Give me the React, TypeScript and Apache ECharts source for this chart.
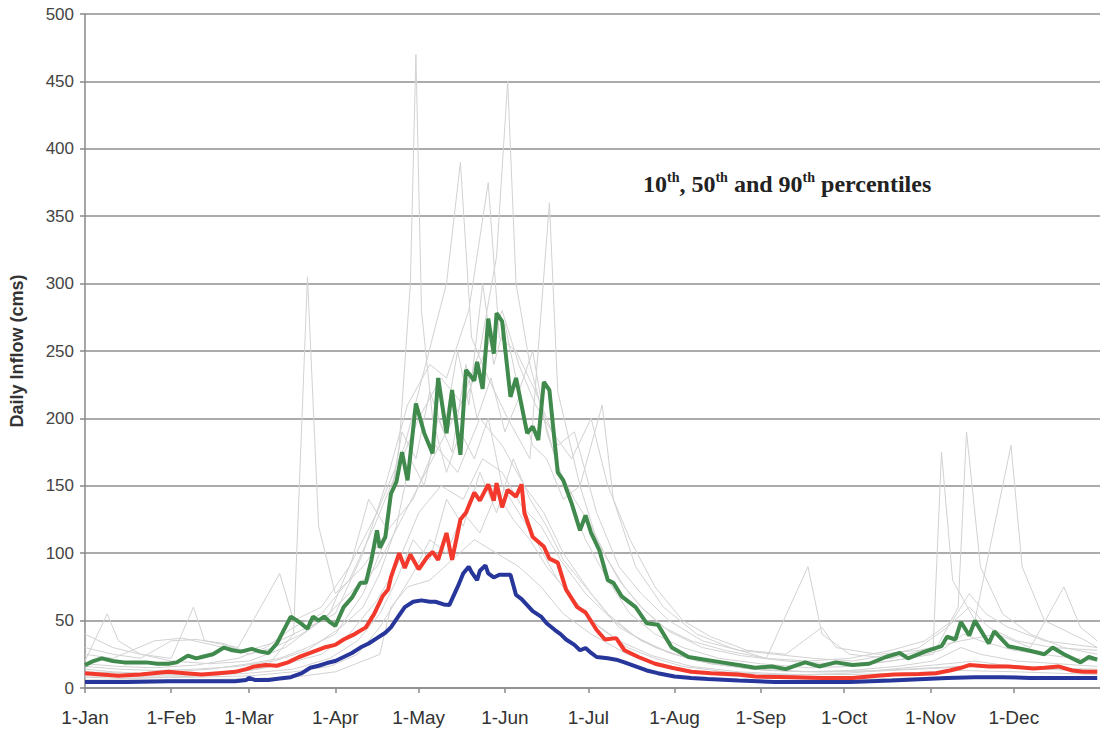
import React, { useEffect, useRef } from "react";
import * as echarts from "echarts";

// day-of-year index (0 = 1-Jan) for month starts
const monthStarts = [0, 31, 59, 90, 120, 151, 181, 212, 243, 273, 304, 334];
const monthLabels = ["1-Jan", "1-Feb", "1-Mar", "1-Apr", "1-May", "1-Jun", "1-Jul", "1-Aug", "1-Sep", "1-Oct", "1-Nov", "1-Dec"];
const yTicks = [0, 50, 100, 150, 200, 250, 300, 350, 400, 450, 500];

// 90th percentile
const p90 = [[0,17],[3,20],[6,22],[10,20],[14,19],[18,19],[22,19],[26,18],[30,18],[33,19],[37,24],[40,22],[42,23],[46,25],[50,30],[53,28],[56,27],[60,29],[63,27],[66,26],[69,33],[72,45],[74,53],[77,49],[80,44],[82,53],[84,50],[86,53],[88,49],[90,46],[93,60],[96,67],[99,78],[101,78],[103,95],[105,117],[106,104],[108,112],[110,144],[112,153],[114,175],[116,154],[119,211],[122,189],[125,174],[127,230],[130,189],[132,221],[135,173],[137,236],[140,228],[141,242],[143,222],[145,274],[147,248],[148,278],[150,272],[153,216],[155,230],[159,189],[161,194],[163,184],[165,227],[167,221],[170,160],[172,154],[175,137],[178,117],[180,128],[182,115],[185,102],[188,80],[190,78],[193,68],[198,60],[202,48],[206,47],[211,30],[217,23],[223,21],[229,19],[235,17],[241,15],[247,16],[252,14],[256,17],[259,19],[264,16],[270,19],[276,17],[282,18],[288,23],[293,26],[296,22],[302,27],[308,31],[310,38],[313,36],[315,49],[318,39],[320,50],[325,33],[327,42],[332,31],[339,28],[345,25],[348,30],[352,25],[358,19],[361,23],[364,21]];

// 50th percentile
const p50 = [[0,11],[6,10],[12,9],[20,10],[30,12],[36,11],[42,10],[48,11],[54,12],[58,14],[61,16],[65,17],[69,16.5],[73,19],[77,23],[81,26],[86,30],[90,32],[93,36],[97,40],[101,45],[104,55],[107,68],[109,73],[110,82],[113,100],[115,89],[117,99],[120,88],[123,97],[125,101],[127,95],[130,115],[132,95],[135,125],[137,130],[140,145],[142,139],[145,151],[147,139],[148,152],[150,134],[152,147],[155,142],[157,151],[158,130],[161,112],[165,105],[167,96],[170,93],[173,73],[177,60],[180,56],[184,43],[187,36],[191,37],[194,28],[199,23],[205,18],[211,15],[218,12],[225,11],[235,10],[241,8.5],[255,8],[265,7.5],[276,7.5],[285,9],[291,10],[300,10.4],[306,11],[311,13],[315,15],[318,17],[325,16],[332,16],[341,14.5],[345,15],[350,16],[355,13],[359,12],[364,12]];

// 10th percentile
const p10 = [[0,4.5],[15,4.5],[30,5],[45,5],[54,5],[58,6],[59,7.5],[61,6],[66,6],[70,7],[74,8],[78,11],[81,15],[84,16.5],[87,18.5],[90,20],[93,23],[96,26],[99,30],[102,33],[105,37],[108,41],[110,45],[113,54],[115,60],[118,64],[121,65],[124,64],[126,64],[129,62],[131,61.5],[134,75],[136,85],[138,90],[139,86],[141,80],[142,87],[144,91],[145,85],[147,82],[149,84],[151,84],[153,84],[155,69],[157,66],[159,61.5],[161,57],[164,53],[166,48],[169,43],[171,40],[173,36],[176,32],[178,28],[180,29.6],[182,26],[184,23],[188,22],[191,21],[194,19],[198,16],[202,13],[206,11],[212,8.5],[218,7.5],[224,6.7],[235,5.5],[248,4.5],[260,4.5],[275,4.5],[290,5.5],[300,6.5],[310,7.5],[320,8],[330,8],[340,7.5],[350,7.5],[364,7.5]];

// individual years (light grey traces)
const yearA = [[0,14],[10,12],[20,11],[31,12],[45,14],[59,18],[70,22],[80,30],[90,40],[100,70],[108,110],[113,180],[117,300],[119,470],[121,280],[125,200],[130,160],[135,190],[140,170],[145,200],[150,150],[156,130],[162,110],[170,80],[178,60],[185,45],[195,30],[205,22],[215,16],[230,12],[245,10],[260,10],[275,11],[290,14],[300,16],[310,18],[320,20],[330,17],[345,15],[364,13]];
const yearB = [[0,20],[8,55],[12,35],[20,25],[31,20],[45,18],[59,20],[72,30],[85,50],[95,70],[105,90],[115,130],[125,170],[135,210],[142,250],[148,320],[152,450],[155,300],[160,240],[165,200],[172,150],[180,110],[188,80],[196,55],[205,40],[215,30],[228,22],[243,18],[260,15],[275,16],[290,20],[305,25],[314,60],[317,190],[322,90],[330,55],[340,40],[352,30],[364,25]];
const yearC = [[0,40],[10,30],[20,25],[31,22],[39,60],[43,35],[55,30],[70,85],[75,50],[85,60],[95,90],[105,130],[115,180],[125,260],[130,300],[135,390],[139,260],[145,230],[152,200],[160,170],[167,360],[170,220],[178,150],[186,210],[190,140],[198,90],[208,60],[220,40],[232,30],[245,22],[260,90],[265,40],[275,25],[290,22],[305,30],[308,175],[312,80],[320,50],[333,180],[337,90],[345,50],[360,35],[364,30]];
const yearD = [[0,8],[15,7],[31,8],[50,10],[65,15],[75,40],[80,305],[84,120],[90,70],[100,90],[110,120],[118,140],[126,180],[134,160],[142,200],[150,180],[158,150],[165,130],[172,100],[182,70],[192,45],[205,30],[220,20],[240,14],[260,12],[280,12],[300,14],[320,16],[340,15],[364,14]];
const yearE = [[0,25],[10,22],[25,35],[35,37],[50,30],[59,28],[70,35],[80,45],[90,55],[100,100],[108,150],[116,210],[124,240],[130,230],[138,280],[145,375],[149,260],[155,250],[162,220],[170,180],[176,190],[184,130],[192,90],[200,70],[210,50],[222,35],[235,28],[248,25],[262,22],[276,20],[290,25],[300,30],[310,45],[318,60],[325,45],[335,35],[348,30],[364,28]];
const yearF = [[0,6],[20,6],[40,6],[59,7],[75,8],[90,12],[100,20],[106,25],[110,60],[116,75],[124,80],[132,95],[140,110],[148,100],[156,90],[164,75],[172,55],[182,40],[195,25],[210,15],[230,9],[250,7],[270,6],[290,7],[310,8],[330,8],[350,7],[364,7]];
const yearG = [[0,18],[12,16],[25,15],[40,17],[55,22],[65,30],[75,45],[85,55],[95,80],[104,120],[112,160],[120,200],[128,230],[136,210],[144,250],[150,280],[156,240],[162,210],[168,190],[175,170],[182,200],[188,150],[196,110],[205,75],[215,50],[225,38],[238,28],[252,25],[265,45],[270,30],[285,25],[300,28],[315,35],[328,40],[340,30],[352,75],[358,45],[364,35]];
const yearH = [[0,12],[15,11],[31,10],[45,11],[59,13],[72,18],[85,25],[95,40],[105,65],[112,90],[120,130],[128,150],[136,140],[143,170],[150,160],[157,135],[164,120],[171,95],[180,70],[190,50],[200,35],[212,25],[225,18],[240,14],[258,12],[275,13],[292,16],[305,20],[315,30],[322,25],[335,20],[350,18],[364,16]];
const yearI = [[0,30],[10,25],[20,22],[31,35],[40,36],[50,33],[59,25],[68,30],[78,40],[88,55],[96,95],[102,140],[108,120],[114,190],[119,170],[124,220],[129,190],[134,250],[138,210],[143,300],[147,240],[151,270],[156,220],[161,250],[166,190],[171,160],[176,140],[182,120],[188,95],[194,75],[200,60],[208,45],[218,35],[230,28],[245,22],[260,20],[275,22],[290,28],[302,35],[312,50],[318,70],[324,55],[332,45],[345,35],[364,30]];
const yearJ = [[0,10],[20,9],[40,9],[59,11],[75,14],[88,22],[98,35],[106,55],[112,80],[118,110],[124,95],[130,140],[136,120],[142,160],[148,130],[154,170],[160,140],[166,120],[172,95],[180,75],[188,55],[198,38],[210,26],[225,18],[245,13],[265,12],[285,13],[305,15],[325,17],[345,14],[364,12]];
const yearK = [[0,16],[12,14],[25,13],[40,14],[55,16],[68,20],[80,28],[92,45],[100,60],[106,85],[112,120],[117,170],[122,150],[127,200],[132,175],[137,240],[141,200],[146,230],[151,190],[156,215],[161,180],[166,170],[172,140],[178,150],[184,110],[192,80],[200,60],[210,42],[222,30],[236,24],[252,20],[268,18],[282,18],[296,22],[308,28],[316,40],[322,35],[334,28],[348,24],[364,20]];
const yearL = [[0,9],[20,8],[40,8],[59,9],[75,12],[88,16],[98,25],[106,45],[112,65],[118,85],[124,110],[130,100],[136,130],[142,115],[148,145],[154,125],[160,110],[166,90],[174,70],[182,50],[192,35],[204,24],[218,16],[235,12],[255,10],[275,10],[295,11],[315,13],[335,12],[364,10]];
const greyYears = [yearA, yearB, yearC, yearD, yearE, yearF, yearG, yearH, yearI, yearJ, yearK, yearL];

export default function App() {
  const ref = useRef<HTMLDivElement>(null);
  useEffect(() => {
    if (!ref.current) return;
    const chart = echarts.init(ref.current, null, { renderer: "svg" });
    const greySeries = greyYears.map((d, i) => ({
      type: "line",
      name: "year" + i,
      data: d,
      symbol: "none",
      silent: true,
      lineStyle: { color: "#d2d2d2", width: 1 },
      z: 1,
    }));
    const pctl = (name: string, data: number[][], color: string, z: number) => ({
      type: "line",
      name,
      data,
      symbol: "none",
      lineStyle: { color, width: 4 },
      z,
    });
    chart.setOption({
      animation: false,
      backgroundColor: "#ffffff",
      grid: { left: 82, right: -10, top: 14, bottom: 48 },
      xAxis: {
        type: "value",
        min: 0,
        max: 365,
        axisLine: { show: true, lineStyle: { color: "#8a8a8a", width: 1.5 } },
        axisTick: {
          show: true,
          customValues: monthStarts,
          length: 5,
          inside: false,
          lineStyle: { color: "#8a8a8a", width: 1.5 },
        },
        axisLabel: {
          customValues: monthStarts,
          formatter: (v: number) => monthLabels[monthStarts.indexOf(v)] ?? "",
          fontFamily: "Liberation Sans, Arial, sans-serif",
          fontSize: 19,
          color: "#333",
          margin: 20,
        },
        splitLine: { show: false },
      },
      yAxis: {
        type: "value",
        min: 0,
        max: 500,
        interval: 50,
        name: "Daily Inflow (cms)",
        nameLocation: "middle",
        nameGap: 59,
        nameTextStyle: {
          fontFamily: "Liberation Sans, Arial, sans-serif",
          fontWeight: "bold",
          fontSize: 18,
          color: "#333",
        },
        axisLine: { show: true, lineStyle: { color: "#8a8a8a", width: 1.5 } },
        axisTick: { show: true, length: 5, lineStyle: { color: "#8a8a8a", width: 1.5 } },
        axisLabel: {
          fontFamily: "Liberation Sans, Arial, sans-serif",
          fontSize: 17,
          color: "#444",
          margin: 11,
          formatter: (v: number) => (yTicks.includes(v) ? String(v) : ""),
        },
        splitLine: { show: true, lineStyle: { color: "#8f8f8f", width: 1.5 } },
      },
      graphic: [
        {
          type: "text",
          left: 643,
          top: 170,
          style: {
            text: "{b|10}{s|th}{b|, 50}{s|th}{b| and 90}{s|th}{b| percentiles}",
            rich: {
              b: { fontFamily: "Liberation Serif, Times New Roman, serif", fontWeight: "bold", fontSize: 24, lineHeight: 28, fill: "#222" },
              s: { fontFamily: "Liberation Serif, Times New Roman, serif", fontWeight: "bold", fontSize: 14, lineHeight: 28, verticalAlign: "top", fill: "#222" },
            },
          },
          z: 100,
        },
      ],
      series: [
        ...greySeries,
        pctl("10th percentile", p10, "#27369a", 5),
        pctl("50th percentile", p50, "#f2392c", 6),
        pctl("90th percentile", p90, "#3f8a4c", 7),
      ],
    });
    return () => chart.dispose();
  }, []);
  return (
    <div
      ref={ref}
      style={{ position: "absolute", left: 0, top: 0, width: 1100, height: 736, background: "#fff" }}
    />
  );
}
